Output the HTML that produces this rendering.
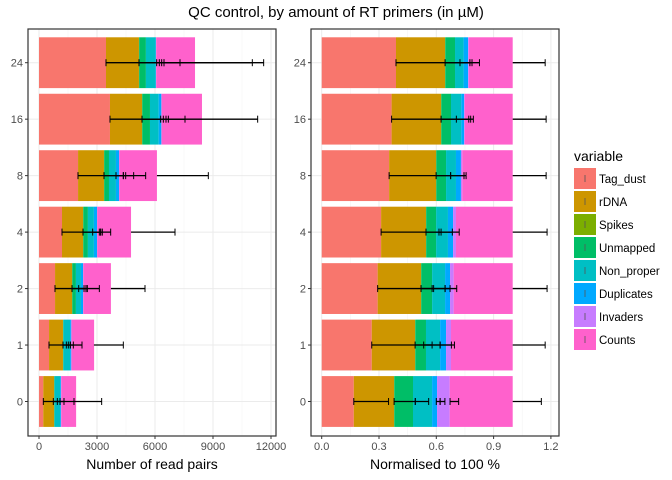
<!DOCTYPE html>
<html><head><meta charset="utf-8"><style>
html,body{margin:0;padding:0;background:#fff}
svg{display:block;font-family:"Liberation Sans",sans-serif}
</style></head><body>
<svg id="chart" width="672" height="480" viewBox="0 0 672 480">
<text x="336" y="17" text-anchor="middle" font-size="15" fill="#000">QC control, by amount of RT primers (in µM)</text>
</svg>
<script>
const categories = ["24","16","8","4","2","1","0"];
const variables = ["Tag_dust","rDNA","Spikes","Unmapped","Non_proper","Duplicates","Invaders","Counts"];
const colors = ["#F8766D","#CD9600","#7CAE00","#00BE67","#00BFC4","#00A9FF","#C77CFF","#FF61CC"];
// left panel: segment values (read pairs)
const rawTag = [3466,3670,2020,1190,830,520,220];
const rawRDNA = [1704,1660,1340,1090,880,720,560];
const rawSpikes = [10,10,10,10,10,10,10];
const rawUnmapped = [350,400,250,240,190,10,10];
const rawNonProper = [500,450,360,310,260,350,300];
const rawDuplicates = [20,140,160,160,110,60,40];
const rawInvaders = [10,10,20,10,10,10,10];
const rawCounts = [2010,2090,1940,1750,1430,1170,770];
// right panel: normalised segment fractions
const normTag = [0.389,0.366,0.353,0.311,0.293,0.262,0.168];
const normRDNA = [0.257,0.259,0.246,0.235,0.227,0.227,0.211];
const normSpikes = [0.001,0.001,0.001,0.001,0.001,0.001,0.001];
const normUnmapped = [0.051,0.051,0.051,0.052,0.057,0.056,0.098];
const normNonProper = [0.045,0.054,0.052,0.062,0.068,0.074,0.100];
const normDuplicates = [0.023,0.014,0.026,0.027,0.026,0.031,0.026];
const normInvaders = [0.004,0.004,0.007,0.015,0.019,0.026,0.066];
const normCounts = [0.230,0.251,0.264,0.297,0.309,0.323,0.330];
// error intervals [lo,hi,(0 = no left whisker)]
const rawErr = [
 [[3466,6224],[5172,7293],[6086,11034],[6345,11620],[6466,6466]],
 [[3672,6431],[5327,7552],[6293,11310],[6569,6690]],
 [[2017,4483],[3362,4896],[3983,5517],[4362,4362],[6100,8758,0]],
 [[1190,3121],[2276,3276],[2776,3707],[3190,3190],[4760,7034,0]],
 [[828,2328],[1707,2500],[2052,3121],[2431,2431],[3720,5483,0]],
 [[517,1517],[1241,1776],[1414,2224],[1621,1621],[2840,4362,0]],
 [[224,1086],[741,1293],[948,1810],[1810,3241]]
];
const normErr = [
 [[0.389,0.776],[0.646,0.826],[0.724,0.787],[1.0,1.17,0]],
 [[0.366,0.77],[0.625,0.794],[0.705,0.78],[1.0,1.175,0]],
 [[0.353,0.745],[0.599,0.756],[0.675,0.675],[1.0,1.175,0]],
 [[0.311,0.625],[0.546,0.684],[0.614,0.72],[1.0,1.18,0]],
 [[0.293,0.586],[0.52,0.672],[0.578,0.707],[0.646,0.646],[1.0,1.18,0]],
 [[0.262,0.578],[0.489,0.679],[0.534,0.695],[0.62,0.62],[1.0,1.17,0]],
 [[0.168,0.35],[0.379,0.56],[0.49,0.49],[0.6,0.645],[0.62,0.62],[0.672,0.717],[1.0,1.15,0]]
];
const leftTicks = [0,3000,6000,9000,12000];
const leftTickLabels = ["0","3000","6000","9000","12000"];
const rightTicks = [0,0.3,0.6,0.9,1.2];
const rightTickLabels = ["0.0","0.3","0.6","0.9","1.2"];

const NS="http://www.w3.org/2000/svg";
const svg=document.getElementById('chart');
function mk(tag,attrs,parent){const e=document.createElementNS(NS,tag);for(const k in attrs)e.setAttribute(k,attrs[k]);(parent||svg).appendChild(e);return e;}
const yTop=29,yBot=436;
const step=(401.5-62.7)/6;
function yPos(i){return 62.7+i*step;}
const barH=step*0.9;

function panel(opt){
  const g=mk('g',{});
  
  
  const xs=v=>opt.x0+(v-0)*(opt.x1-opt.x0)/(opt.v1);
  mk('rect',{x:opt.left,y:yTop,width:opt.right-opt.left,height:yBot-yTop,fill:'#fff'},g);
  for(let k=0;k<opt.ticks.length-1;k++){
    const m=(opt.ticks[k]+opt.ticks[k+1])/2;
    mk('line',{x1:xs(m),x2:xs(m),y1:yTop,y2:yBot,stroke:'#f4f4f4','stroke-width':0.6},g);
  }
  opt.ticks.forEach((t,k)=>{
    const gl=mk('line',{x1:xs(t),x2:xs(t),y1:yTop,y2:yBot,stroke:'#ebebeb','stroke-width':1},g);
    
    
    mk('line',{x1:xs(t),x2:xs(t),y1:yBot,y2:yBot+3,stroke:'#333','stroke-width':1},g);
    const tl=mk('text',{x:xs(t),y:yBot+14,'text-anchor':'middle','font-size':11,fill:'#4d4d4d'},g);
    tl.textContent=opt.tickLabels[k];
    
    
  });
  categories.forEach((c,i)=>{
    mk('line',{x1:opt.left,x2:opt.right,y1:yPos(i),y2:yPos(i),stroke:'#ebebeb','stroke-width':1},g);
    mk('line',{x1:opt.left-3,x2:opt.left,y1:yPos(i),y2:yPos(i),stroke:'#333','stroke-width':1},g);
    const yl=mk('text',{x:opt.left-5,y:yPos(i)+4,'text-anchor':'end','font-size':11,fill:'#4d4d4d'},g);
    yl.textContent=c;
    
    
    let cum=0;
    opt.series.forEach((s,j)=>{
      const v=s[i];
      const r=mk('rect',{x:xs(cum),y:yPos(i)-barH/2,width:Math.max(0,xs(cum+v)-xs(cum)),height:barH,fill:colors[j]},g);
      
      
      cum+=v;
    });
  });
  categories.forEach((c,i)=>{
    opt.err[i].forEach(iv=>{
      const y=yPos(i);
      const eg=mk('g',{stroke:'#000','stroke-width':1.3},g);
      
      
      mk('line',{x1:xs(iv[0]),x2:xs(iv[1]),y1:y,y2:y},eg);
      if(iv[2]!==0) mk('line',{x1:xs(iv[0]),x2:xs(iv[0]),y1:y-3.5,y2:y+3.5,'stroke-width':1},eg);
      mk('line',{x1:xs(iv[1]),x2:xs(iv[1]),y1:y-3.5,y2:y+3.5,'stroke-width':1},eg);
    });
  });
  mk('rect',{x:opt.left,y:yTop,width:opt.right-opt.left,height:yBot-yTop,fill:'none',stroke:'#333','stroke-width':1.2},g);
  const at=mk('text',{x:(opt.left+opt.right)/2,y:469,'text-anchor':'middle','font-size':14,fill:'#000'},g);
  at.textContent=opt.title;
  
  
}
panel({name:'raw-panel',left:28,right:276,x0:39,x1:97,v1:3000,ticks:leftTicks,tickLabels:leftTickLabels,
  series:[rawTag,rawRDNA,rawSpikes,rawUnmapped,rawNonProper,rawDuplicates,rawInvaders,rawCounts],err:rawErr,title:'Number of read pairs'});
panel({name:'normalised-panel',left:311,right:559,x0:321.7,x1:512.7,v1:1,ticks:rightTicks,tickLabels:rightTickLabels,
  series:[normTag,normRDNA,normSpikes,normUnmapped,normNonProper,normDuplicates,normInvaders,normCounts],err:normErr,title:'Normalised to 100 %'});
const lg=mk('g',{});


const lt=mk('text',{x:574,y:161,'font-size':14,fill:'#000'},lg);
lt.textContent='variable';
variables.forEach((v,j)=>{
  const y=168+j*23;
  const e=mk('g',{},lg);
  
  
  mk('rect',{x:574,y:y,width:22,height:21,fill:colors[j]},e);
  mk('line',{x1:585,x2:585,y1:y+7,y2:y+14,stroke:'#555','stroke-width':0.8},e);
  const t=mk('text',{x:599,y:y+15,'font-size':11.5,fill:'#000'},e);
  t.textContent=v;
});
</script>
</body></html>
